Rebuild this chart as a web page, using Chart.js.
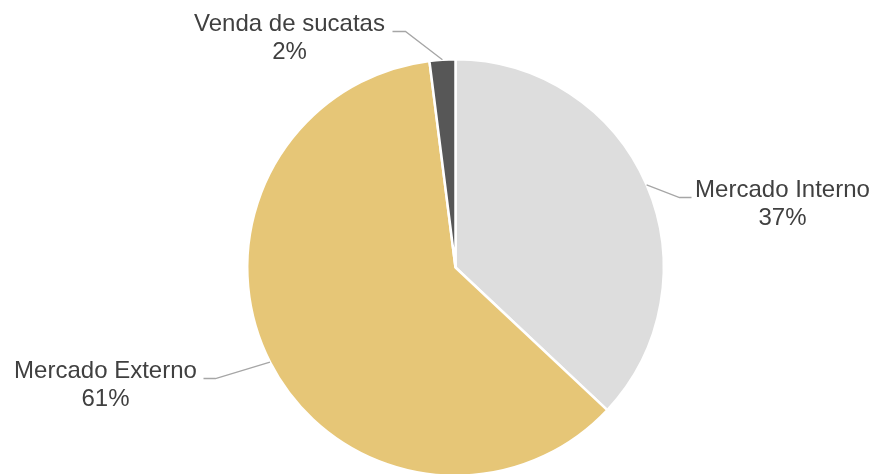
<!DOCTYPE html>
<html>
<head>
<meta charset="utf-8">
<script src="https://cdn.jsdelivr.net/npm/chart.js@4.4.0/dist/chart.umd.min.js"></script>
<style>
  html, body { margin: 0; padding: 0; background: #fff; overflow: hidden; }
  #wrap { width: 875px; height: 535px; }
</style>
</head>
<body>
<div id="wrap"><canvas id="myChart"></canvas></div>
<script>
// Chart data
const categories = ["Mercado Interno", "Mercado Externo", "Venda de sucatas"];
const shares = [37, 61, 2];
const percentLabels = ["37%", "61%", "2%"];
const sliceColors = ["#dddddd", "#e6c677", "#575757"];

// Leader lines: elbow and label text position, relative to the pie centre
const labelLayout = [
    { elbow: [224, -70], end: [236, -70], text: [327, -77], align: "center" },
    { elbow: [-240, 111], end: [-252, 111], text: [-350, 104], align: "center" },
    { elbow: [-50, -236], end: [-63, -236], text: [-166, -243], align: "center" },
];

const leaderLabels = {
    id: "leaderLabels",
    afterDatasetsDraw(chart) {
        const ctx = chart.ctx;
        const arcs = chart.getDatasetMeta(0).data;
        ctx.save();
        arcs.forEach((arc, i) => {
            const mid = (arc.startAngle + arc.endAngle) / 2;
            const cx = arc.x, cy = arc.y, r = arc.outerRadius;
            const lay = labelLayout[i];
            ctx.strokeStyle = "#a6a6a6";
            ctx.lineWidth = 1.3;
            ctx.beginPath();
            ctx.moveTo(cx + Math.cos(mid) * r, cy + Math.sin(mid) * r);
            ctx.lineTo(cx + lay.elbow[0], cy + lay.elbow[1]);
            ctx.lineTo(cx + lay.end[0], cy + lay.end[1]);
            ctx.stroke();

            ctx.fillStyle = "#404040";
            ctx.font = "24px 'Liberation Sans', Arial, sans-serif";
            ctx.textAlign = lay.align;
            ctx.textBaseline = "middle";
            ctx.fillText(categories[i], cx + lay.text[0], cy + lay.text[1]);
            ctx.fillText(percentLabels[i], cx + lay.text[0], cy + lay.text[1] + 28);
        });
        ctx.restore();
    }
};

const ctx = document.getElementById("myChart").getContext("2d");
new Chart(ctx, {
    type: "pie",
    data: {
        labels: categories,
        datasets: [{
            data: shares,
            backgroundColor: sliceColors,
            borderColor: "#ffffff",
            borderWidth: 2.5,
        }],
    },
    options: {
        responsive: true,
        maintainAspectRatio: false,
        animation: false,
        rotation: 0,
        layout: { padding: { left: 246, right: 210, top: 58, bottom: 58 } },
        plugins: {
            legend: { display: false },
            tooltip: { enabled: false },
        },
    },
    plugins: [leaderLabels],
});
</script>
</body>
</html>
